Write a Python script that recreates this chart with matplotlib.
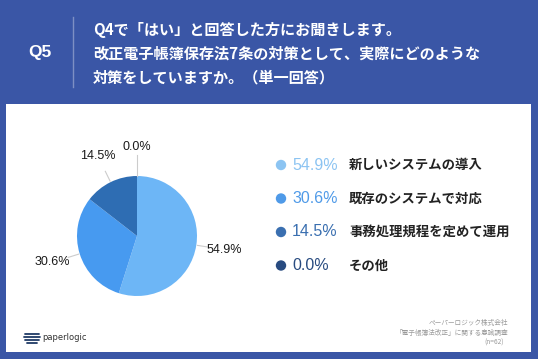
import matplotlib
matplotlib.use("Agg")
import matplotlib.pyplot as plt
import numpy as np
from matplotlib.patches import Rectangle, Circle

plt.rcParams['font.family'] = ['Noto Sans CJK JP', 'DejaVu Sans']

# ---- data ----
categories = ["新しいシステムの導入", "既存のシステムで対応", "事務処理規程を定めて運用", "その他"]
values = [54.9, 30.6, 14.5, 0.0]
pie_colors = ["#6db6f6", "#479af0", "#2e6db3", "#23497f"]
legend_colors = ["#8cc4f2", "#4f9ae8", "#3a6fb0", "#284b80"]
question_id = "Q5"
question_lines = ["Q4で「はい」と回答した方にお聞きします。",
                  "改正電子帳簿保存法7条の対策として、実際にどのような",
                  "対策をしていますか。（単一回答）"]
footer_lines = ["ペーパーロジック株式会社", "「電子帳簿法改正」に関する意識調査", "(n=62)"]

W, H = 538, 359
BG = "#3a56a6"
fig = plt.figure(figsize=(W / 100, H / 100), dpi=100)
fig.patch.set_facecolor(BG)

# full-figure overlay axes in pixel coords
ov = fig.add_axes([0, 0, 1, 1])
ov.set_xlim(0, W)
ov.set_ylim(H, 0)
ov.axis("off")
ov.add_patch(Rectangle((6, 104), 525, 248, facecolor="white", edgecolor="none"))

# header
ov.text(40, 53, question_id, color="white", fontsize=12.5, fontweight="bold",
        ha="center", va="center", family=["Liberation Sans", "DejaVu Sans"])
ov.plot([73, 73], [17, 87], color="#7d8fc4", lw=1)
for i, line in enumerate(question_lines):
    ov.text(93, 30 + i * 23.5, line, color="white", fontsize=10.9, fontweight="bold",
            ha="left", va="center")

# legend
for i, (cat, v) in enumerate(zip(categories, values)):
    y = 165 + i * 33.5
    ov.add_patch(Circle((281, y), 5.2, facecolor=legend_colors[i], edgecolor="none"))
    ov.text(292, y, f"{v:.1f}%", color=legend_colors[i], fontsize=11.5,
            ha="left", va="center", family=["Liberation Sans", "DejaVu Sans"])
    ov.text(349, y, cat, color="#222222", fontsize=9.6, fontweight="bold",
            ha="left", va="center")

# footer
for i, line in enumerate(footer_lines):
    ov.text(508 if i < 2 else 504, 323 + i * 10, line, color="#9a9a9a", fontsize=4.8,
            ha="right", va="center")

# logo
for k, (dy, w) in enumerate([(-4, 14), (-1, 16), (2, 14), (5, 10)]):
    ov.plot([24 + (16 - w) / 2, 24 + (16 - w) / 2 + w], [338 + dy, 338 + dy],
            color="#1f3a66", lw=1.3, solid_capstyle="round")
ov.text(42, 338, "paperlogic", color="#333333", fontsize=6, ha="left", va="center",
        family=["DejaVu Sans"])

# pie
cx, cy, r = 137, 236, 60
ax = fig.add_axes([(cx - r) / W, (H - cy - r) / H, 2 * r / W, 2 * r / H])
wedges, _ = ax.pie(values, colors=pie_colors, startangle=90, counterclock=False,
                   radius=1.0, wedgeprops=dict(linewidth=0))
ax.set_xlim(-1, 1)
ax.set_ylim(-1, 1)
ax.set_aspect("equal")
ax.axis("off")

start = 90.0
for v in values:
    span = v / 100 * 360
    mid = np.deg2rad(start - span / 2)
    start -= span
    c, s = np.cos(mid), np.sin(mid)
    r0, r1 = (1.02, 1.2) if v > 0 else (1.0, 1.35)
    ax.plot([r0 * c, r1 * c], [r0 * s, r1 * s], color="#cccccc", lw=0.8, clip_on=False)
    d = 1.48
    ax.text(d * c, d * s, f"{v:.1f}%", ha="center", va="center", fontsize=9,
            color="#1a1a1a", family=["Liberation Sans", "DejaVu Sans"], clip_on=False)

fig.savefig("out.png", dpi=100, facecolor=fig.get_facecolor())
